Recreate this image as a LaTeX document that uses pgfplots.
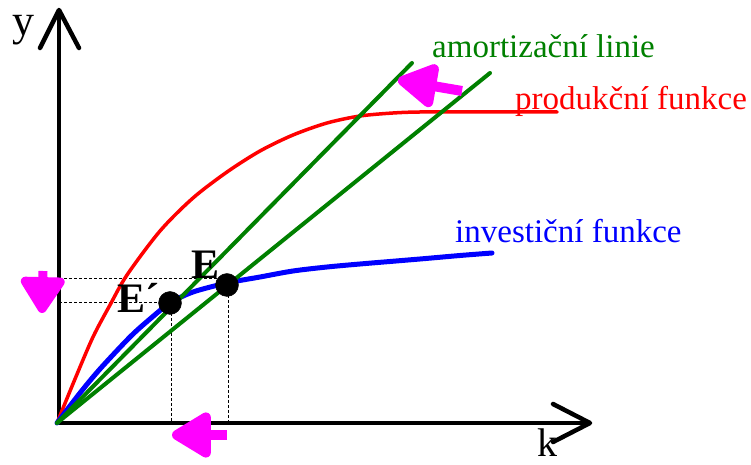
\documentclass[border=0pt]{standalone}
\usepackage{pgfplots}
\pgfplotsset{compat=1.18}
\usepackage{fontspec}
\setmainfont{Liberation Serif}
\usetikzlibrary{arrows.meta}
\definecolor{mygreen}{RGB}{0,128,0}
\definecolor{mymag}{RGB}{255,0,255}
\begin{document}
\begin{tikzpicture}
\begin{axis}[name=ax, scale only axis, width=751pt, height=465pt,
  xmin=0, xmax=751, ymin=0, ymax=465, hide axis, clip=false]
% dotted guide lines
\addplot[black, line width=1pt, dash pattern=on 3pt off 2pt] coordinates {(59,186) (217,186)};
\addplot[black, line width=1pt, dash pattern=on 3pt off 2pt] coordinates {(59,162) (160,162)};
\addplot[black, line width=1pt, dash pattern=on 3pt off 2pt] coordinates {(171,162) (171,42)};
\addplot[black, line width=1pt, dash pattern=on 3pt off 2pt] coordinates {(228,180) (228,42)};
% axes
\addplot[black, line width=4.5pt] coordinates {(59,42) (59,455)};
\addplot[black, line width=4.5pt, line cap=round, line join=round] coordinates {(40,417) (59,455) (79,417)};
\addplot[black, line width=4.5pt] coordinates {(57,42) (590,42)};
\addplot[black, line width=4.5pt, line cap=round, line join=round] coordinates {(553,61) (590,42) (553,23)};
% production function
\addplot[red, line width=3.5pt, smooth, line cap=round] coordinates {
(57,42) (75,86) (93,128) (110,160) (127,190) (160,234) (193,267) (227,293) (260,314) (293,330) (327,342) (360,349) (393,352) (420,353) (470,353) (557,353)};
% investment function
\addplot[blue, line width=5pt, smooth, line cap=round] coordinates {
(57,42) (80,72) (100,96) (130,128) (150,146) (170,162) (193,173) (227,182) (260,188) (293,194) (327,198) (360,201) (420,206) (460,209.5) (492,212)};
% amortization lines
\addplot[mygreen, line width=4pt, line cap=round] coordinates {(57,42) (412,402)};
\addplot[mygreen, line width=4pt, line cap=round] coordinates {(57,42) (490,392)};
% equilibrium points
\addplot[only marks, mark=*, mark size=11.5pt, black] coordinates {(170,162) (227,180)};
% magenta arrows
\addplot[mymag, line width=10pt, -{Triangle[length=44pt, width=50pt, round]}] coordinates {(227,30) (172,30)};
\addplot[mymag, line width=9pt, -{Triangle[length=40pt, width=49pt, round]}] coordinates {(43,194) (42,152)};
\addplot[mymag, line width=10pt, -{Triangle[length=44pt, width=48pt, round]}] coordinates {(462,374) (398,385)};
% labels
\node[anchor=base west, inner sep=0, text=mygreen, font=\fontsize{33}{36}\selectfont] at (axis cs:432,407) {amortizační linie};
\node[anchor=base west, inner sep=0, text=red, font=\fontsize{33}{36}\selectfont] at (axis cs:515,355) {produkční funkce};
\node[anchor=base west, inner sep=0, text=blue, font=\fontsize{33}{36}\selectfont] at (axis cs:455,222) {investiční funkce};
\node[anchor=base west, inner sep=0, font=\fontsize{42}{46}\selectfont\bfseries] at (axis cs:191,186) {E};
\node[anchor=base west, inner sep=0, font=\fontsize{42}{46}\selectfont\bfseries] at (axis cs:117,152) {E´};
\node[anchor=base west, inner sep=0, font=\fontsize{44}{48}\selectfont] at (axis cs:12,429) {y};
\node[anchor=base west, inner sep=0, font=\fontsize{40}{44}\selectfont] at (axis cs:537,8) {k};
\end{axis}
\pgfresetboundingbox
\path[use as bounding box] (ax.south west) rectangle (ax.north east);
\end{tikzpicture}
\end{document}
